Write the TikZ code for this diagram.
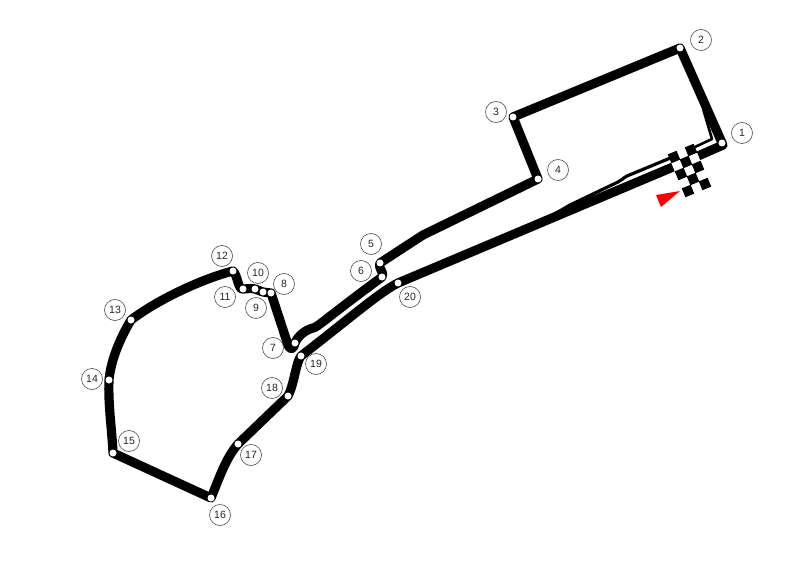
\documentclass[tikz,border=0pt]{standalone}
\usepackage{fontspec}
\setmainfont{Liberation Sans}
\definecolor{lblgray}{gray}{0.3}
\newcommand{\cellpath}[4]{%
  ({(#1)*8.5+(#3)*3.5},{-(#1)*3.5+(#3)*8.5}) --
  ({(#2)*8.5+(#3)*3.5},{-(#2)*3.5+(#3)*8.5}) --
  ({(#2)*8.5+(#4)*3.5},{-(#2)*3.5+(#4)*8.5}) --
  ({(#1)*8.5+(#4)*3.5},{-(#1)*3.5+(#4)*8.5}) -- cycle}
\tikzset{
  x=1pt,y=-1pt,
  trackline/.style={line width=9.2pt,line join=round,line cap=butt,black},
  pitline/.style={line width=2.6pt,line join=round,black},
  dotmark/.style={circle,fill=white,inner sep=0pt,minimum size=7pt},
  turnlabel/.style={circle,draw=lblgray,line width=0.6pt,fill=white,inner sep=0pt,minimum size=21pt,font=\fontsize{10.5}{12}\selectfont,text=black!85},
  boardwhite/.style={fill=white},
  boardblack/.style={fill=black}
}
\begin{document}
\begin{tikzpicture}
\useasboundingbox (0,0) rectangle (800,561);
\fill[white] (0,0) rectangle (800,561);
\foreach \n/\px/\py in {1/722/143,2/680/48,3/513/117,4/538/179,5/380/263,6/382/277,7/295/343,8/271/293,9/263/292,10/255/289,11/243/289,12/233/271,13/131/320,14/109/380,15/113/453,16/211/498,17/238/444,18/288/396,19/301/356,20/398/283}
  \coordinate (t\n) at (\px,\py);
\coordinate (startl) at (673,167);
\coordinate (tc) at (723,145);
\coordinate (pa) at (702,96);
\coordinate (pb) at (704,112);
\coordinate (pc) at (712,139);
\coordinate (pd) at (680,154);
\coordinate (pe) at (627,176);
\coordinate (pf) at (618,182);
\coordinate (pg) at (570,205);
\coordinate (ph) at (546,219);
\draw[pitline] (pa) .. controls (703,102) and (702,106) .. (pb) -- (pc) -- (pd);
\draw[pitline,line width=3.2pt] (pd) -- (pe) .. controls (623,178) and (621,181) .. (pf) -- (pg) -- (ph);
\draw[trackline] (startl) -- (t20)
  .. controls (380,292) and (350,318) .. (t19)
  .. controls (296,362) and (294,385) .. (t18)
  -- (t17)
  .. controls (226,458) and (220,476) .. (t16)
  -- (t15)
  .. controls (112,430) and (108,405) .. (t14)
  .. controls (111,358) and (122,335) .. (t13)
  .. controls (160,298) and (205,278) .. (t12)
  .. controls (238,276) and (238,290) .. (t11)
  .. controls (246,289) and (250,288) .. (t10)
  .. controls (258,289) and (260,292) .. (t9)
  .. controls (265,293) and (268,292) .. (t8)
  -- (288,345) .. controls (290,351) and (294,349) .. (t7)
  .. controls (298,336) and (305,330) .. (313,328)
  .. controls (318,327) and (325,319) .. (t6)
  .. controls (385,272) and (378,270) .. (t5)
  -- (423,235) -- (t4) -- (t3) -- (t2) -- (tc) -- (698,156);
\begin{scope}[shift={(686,162)}]
  \fill[boardwhite] \cellpath{-1.5}{1.5}{-1.5}{3.5};
  \foreach \a/\b in {-1/-1,1/-1,0/0,-1/1,1/1,0/2,-1/3,1/3}{
    \fill[boardblack] \cellpath{\a-0.52}{\a+0.52}{\b-0.52}{\b+0.52};
  }
\end{scope}
\fill[red] (656,195) -- (680,191) -- (661,207) -- cycle;
\foreach \n in {1,...,20} \node[dotmark] (d\n) at (t\n) {};
\foreach \n/\px/\py in {1/742/133,2/701/40,3/496/112,4/558/170,5/371/244,6/361/271,7/273/348,8/284/284,9/256/308,10/258/273,11/225/297,12/222/256,13/115/310,14/92/379,15/129/441,16/220/515,17/251/455,18/272/388,19/316/364,20/410/297}
  \node[turnlabel] (l\n) at (\px,\py) {\n};
\end{tikzpicture}
\end{document}
